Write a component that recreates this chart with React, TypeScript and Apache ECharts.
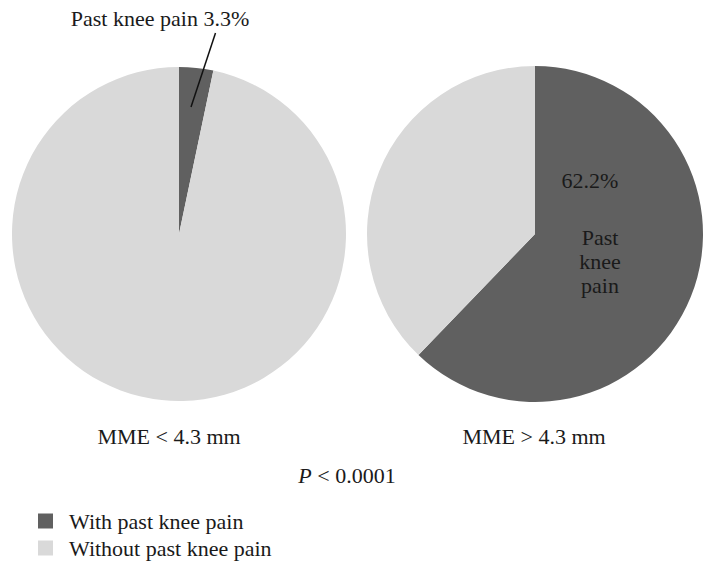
import React, { useEffect, useRef } from "react";
import * as echarts from "echarts";

const categories = ["With past knee pain", "Without past knee pain"];
const groupLabels = ["MME < 4.3 mm", "MME > 4.3 mm"];
const leftValues = [3.3, 96.7];
const rightValues = [62.2, 37.8];
const colors = ["#606060", "#d9d9d9"];
const FONT = "Liberation Serif";
const FS = 22;

export default function App() {
  const ref = useRef<HTMLDivElement>(null);
  useEffect(() => {
    if (!ref.current) return;
    const chart = echarts.init(ref.current, null, { renderer: "svg" });
    const mkData = (vals: number[]) =>
      vals.map((v, i) => ({ name: categories[i], value: v, itemStyle: { color: colors[i] } }));
    const txt = (x: number, y: number, text: string, extra: any = {}) => ({
      type: "text",
      x,
      y,
      z: 100,
      style: {
        text,
        fontFamily: FONT,
        fontSize: FS,
        fill: "#1a1a1a",
        align: "center",
        verticalAlign: "middle",
        ...extra,
      },
    });
    chart.setOption({
      animation: false,
      backgroundColor: "#ffffff",
      legend: {
        orient: "vertical",
        left: 38,
        top: 510,
        height: 63,
        padding: 0,
        itemWidth: 15,
        itemHeight: 15,
        itemGap: 5,
        icon: "rect",
        data: categories,
        textStyle: { fontFamily: FONT, fontSize: FS, color: "#1a1a1a", padding: [0, 0, 0, 11] },
      },
      series: [
        {
          type: "pie",
          center: [179, 234],
          radius: 167,
          startAngle: 90,
          clockwise: true,
          label: { show: false },
          labelLine: { show: false },
          emphasis: { disabled: true },
          data: mkData(leftValues),
        },
        {
          type: "pie",
          center: [535, 234],
          radius: 168,
          startAngle: 90,
          clockwise: true,
          label: { show: false },
          labelLine: { show: false },
          emphasis: { disabled: true },
          data: mkData(rightValues),
        },
      ],
      graphic: [
        txt(160, 18, `Past knee pain ${leftValues[0]}%`),
        {
          type: "line",
          z: 100,
          shape: { x1: 215.5, y1: 33, x2: 191, y2: 107 },
          style: { stroke: "#111", lineWidth: 1.5 },
        },
        txt(590, 180, `${rightValues[0]}%`),
        txt(600, 261, "Past\nknee\npain", { lineHeight: 24 }),
        txt(169, 436, groupLabels[0]),
        txt(534, 436, groupLabels[1]),
        txt(347, 475, "{i|P} < 0.0001", {
          rich: { i: { fontFamily: FONT, fontSize: FS, fontStyle: "italic", fill: "#1a1a1a" } },
        }),
      ],
    });
    return () => chart.dispose();
  }, []);
  return (
    <div
      ref={ref}
      style={{ position: "fixed", left: 0, top: 0, width: 716, height: 573, background: "#fff" }}
    />
  );
}
